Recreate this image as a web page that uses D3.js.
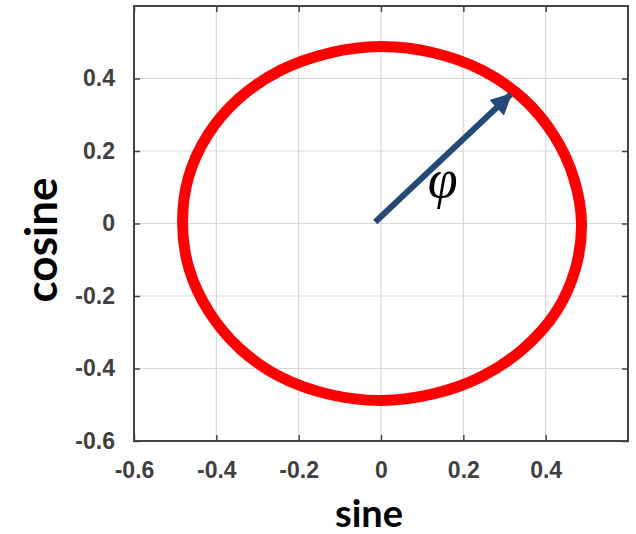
<!DOCTYPE html>
<html>
<head>
<meta charset="utf-8">
<script src="https://cdn.jsdelivr.net/npm/d3@7"></script>
<style>
  body { margin: 0; background: #fff; }
  svg { display: block; }
  .tick text { font-family: "Liberation Sans", Arial, sans-serif; font-weight: bold; fill: #404040; }
</style>
</head>
<body>
<div id="chart"></div>
<script>
// ring, every 15 degrees starting at the top, clockwise
const sineVals = [0.000, 0.127, 0.245, 0.345, 0.420, 0.468, 0.487, 0.472, 0.425, 0.346, 0.245, 0.127, 0.000,
                  -0.127, -0.243, -0.343, -0.418, -0.466, -0.482, -0.468, -0.421, -0.345, -0.245, -0.126];
const cosineVals = [0.488, 0.471, 0.423, 0.345, 0.243, 0.126, 0.000, -0.126, -0.244, -0.345, -0.422, -0.470, -0.488,
                    -0.471, -0.424, -0.345, -0.243, -0.126, 0.000, 0.126, 0.244, 0.345, 0.422, 0.470];
const xTicks = [-0.6, -0.4, -0.2, 0, 0.2, 0.4];
const yTicks = [-0.6, -0.4, -0.2, 0, 0.2, 0.4];
const arrowFrom = [-0.014, 0.004];
const arrowTo = [0.315, 0.356];

const W = 636, H = 534;
const M = {left: 134, top: 6, right: 8, bottom: 93};
const iw = W - M.left - M.right, ih = H - M.top - M.bottom;

const svg = d3.select('#chart').append('svg').attr('width', W).attr('height', H);

const x = d3.scaleLinear().domain([-0.6, 0.6]).range([0, iw]);
const y = d3.scaleLinear().domain([-0.6, 0.6]).range([ih, 0]);
const fmt = d => d === 0 ? '0' : d.toFixed(1);

svg.append('defs').append('marker')
  .attr('id', 'head')
  .attr('viewBox', '0 0 10 10')
  .attr('refX', 9).attr('refY', 5)
  .attr('markerWidth', 3.6).attr('markerHeight', 3.6)
  .attr('markerUnits', 'strokeWidth')
  .attr('orient', 'auto')
  .append('path').attr('d', 'M0,0 L10,5 L0,10 z').attr('fill', '#264a78');

const g = svg.append('g').attr('transform', `translate(${M.left},${M.top})`);

// grid
g.append('g').selectAll('line').data(xTicks.filter(d => d > -0.6)).join('line')
  .attr('x1', d => x(d)).attr('x2', d => x(d)).attr('y1', 0).attr('y2', ih)
  .attr('stroke', '#d9d9d9').attr('stroke-width', 1.2);
g.append('g').selectAll('line').data(yTicks.filter(d => d > -0.6)).join('line')
  .attr('y1', d => y(d)).attr('y2', d => y(d)).attr('x1', 0).attr('x2', iw)
  .attr('stroke', '#d9d9d9').attr('stroke-width', 1.2);

// axes with inward ticks on all sides
const styleAxis = sel => {
  sel.select('.domain').remove();
  sel.selectAll('.tick line').attr('stroke', '#444').attr('stroke-width', 1.5);
};
g.append('g').attr('transform', `translate(0,${ih})`)
  .call(d3.axisBottom(x).tickValues(xTicks).tickFormat(fmt).tickSizeInner(-6).tickPadding(21))
  .call(styleAxis)
  .call(s => s.selectAll('text').attr('font-size', 23).attr('dy', '0.71em'));
g.append('g')
  .call(d3.axisLeft(y).tickValues(yTicks).tickFormat(fmt).tickSizeInner(-6).tickPadding(19))
  .call(styleAxis)
  .call(s => s.selectAll('text').attr('font-size', 23));
g.append('g')
  .call(d3.axisTop(x).tickValues(xTicks).tickFormat('').tickSizeInner(-6))
  .call(styleAxis);
g.append('g').attr('transform', `translate(${iw},0)`)
  .call(d3.axisRight(y).tickValues(yTicks).tickFormat('').tickSizeInner(-6))
  .call(styleAxis);

g.append('rect').attr('width', iw).attr('height', ih)
  .attr('fill', 'none').attr('stroke', '#444').attr('stroke-width', 2);

// ring
const pts = sineVals.map((s, i) => [s, cosineVals[i]]);
g.append('path').datum(pts)
  .attr('d', d3.line().x(d => x(d[0])).y(d => y(d[1])).curve(d3.curveCardinalClosed))
  .attr('fill', 'none').attr('stroke', '#ff0000').attr('stroke-width', 11);

// arrow
g.append('line')
  .attr('x1', x(arrowFrom[0])).attr('y1', y(arrowFrom[1]))
  .attr('x2', x(arrowTo[0])).attr('y2', y(arrowTo[1]))
  .attr('stroke', '#264a78').attr('stroke-width', 6)
  .attr('marker-end', 'url(#head)');

g.append('text')
  .attr('x', x(0.15)).attr('y', y(0.072))
  .attr('text-anchor', 'middle')
  .attr('font-family', '"Liberation Serif", "Times New Roman", serif')
  .attr('font-style', 'italic').attr('font-size', 54)
  .text('φ');

// axis titles
svg.append('text')
  .attr('x', 369).attr('y', 527)
  .attr('text-anchor', 'middle')
  .attr('font-family', 'Lato, "Open Sans", sans-serif')
  .attr('font-weight', 'bold').attr('font-size', 38)
  .text('sine');
svg.append('text')
  .attr('transform', 'translate(57,240) rotate(-90)')
  .attr('text-anchor', 'middle')
  .attr('font-family', 'Lato, "Open Sans", sans-serif')
  .attr('font-weight', 'bold').attr('font-size', 44)
  .text('cosine');
</script>
</body>
</html>
